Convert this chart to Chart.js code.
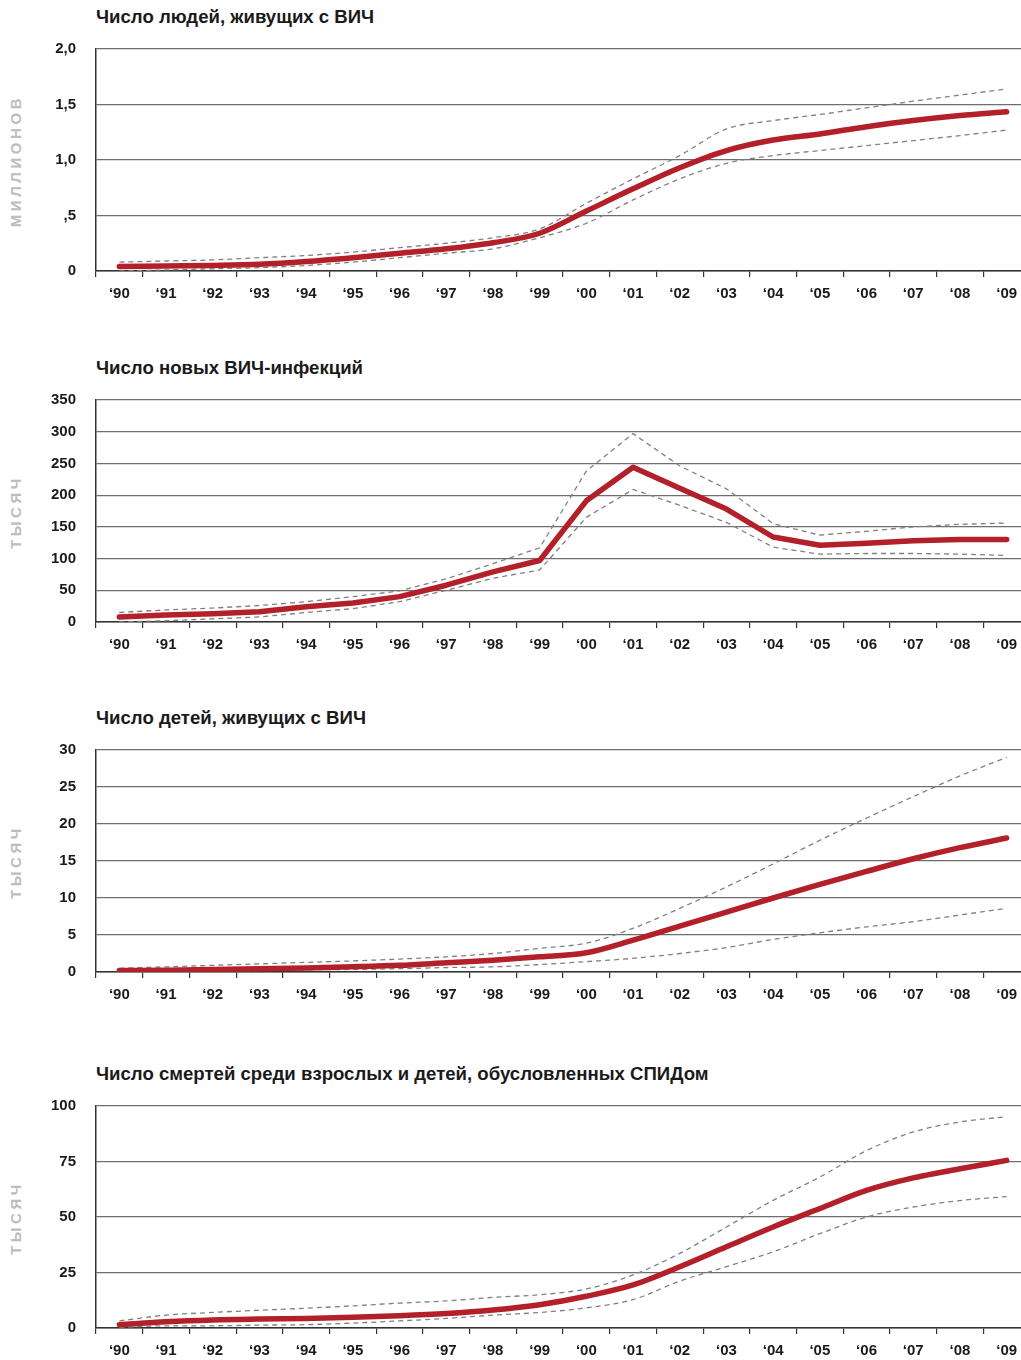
<!DOCTYPE html>
<html>
<head>
<meta charset="utf-8">
<script src="https://cdn.jsdelivr.net/npm/chart.js@4.4.1/dist/chart.umd.min.js"></script>
<style>
  body { margin: 0; width: 1021px; height: 1360px; overflow: hidden; background: #fff;
         position: relative; font-family: "Liberation Sans", Arial, sans-serif; }
  .title { position: absolute; left: 96px; font-weight: bold; font-size: 18.6px; color: #1a1a1a;
           white-space: nowrap; line-height: 20px; }
  .unit  { position: absolute; left: 7px; writing-mode: vertical-rl; font-weight: bold; font-size: 15px;
           letter-spacing: 3.6px; color: #bdbdbd; white-space: nowrap;
           transform: translateY(-50%) rotate(180deg); }
  .box   { position: absolute; left: 0; }
</style>
</head>
<body>

<div class="title" style="top:7px">Число людей, живущих с ВИЧ</div>
<div class="title" style="top:358px">Число новых ВИЧ-инфекций</div>
<div class="title" style="top:708px">Число детей, живущих с ВИЧ</div>
<div class="title" style="top:1064px">Число смертей среди взрослых и детей, обусловленных СПИДом</div>

<div class="unit" style="top:161px">МИЛЛИОНОВ</div>
<div class="unit" style="top:512px">ТЫСЯЧ</div>
<div class="unit" style="top:862px">ТЫСЯЧ</div>
<div class="unit" style="top:1218px">ТЫСЯЧ</div>

<!-- the y axis reserves ~28px above the plot for its top label, so each box starts 28px above its plot -->
<div class="box" style="top:20px"><canvas id="c-plhiv" width="1030" height="291"></canvas></div>
<div class="box" style="top:371px"><canvas id="c-new" width="1030" height="291"></canvas></div>
<div class="box" style="top:721px"><canvas id="c-kids" width="1030" height="291"></canvas></div>
<div class="box" style="top:1077px"><canvas id="c-deaths" width="1030" height="291"></canvas></div>

<script>
// Years on the x axis
const YEARS = ["‘90", "‘91", "‘92", "‘93", "‘94", "‘95", "‘96", "‘97", "‘98", "‘99",
               "‘00", "‘01", "‘02", "‘03", "‘04", "‘05", "‘06", "‘07", "‘08", "‘09"];

// People living with HIV (millions): estimate, upper and lower bound
const PLHIV_MID  = [0.04, 0.045, 0.05, 0.06, 0.085, 0.12, 0.16, 0.20, 0.255, 0.34, 0.54, 0.74, 0.93, 1.085, 1.18, 1.235, 1.30, 1.355, 1.40, 1.435];
const PLHIV_HIGH = [0.08, 0.09, 0.10, 0.12, 0.14, 0.17, 0.21, 0.25, 0.30, 0.38, 0.61, 0.83, 1.04, 1.28, 1.355, 1.41, 1.47, 1.53, 1.585, 1.64];
const PLHIV_LOW  = [0.0, 0.01, 0.02, 0.03, 0.05, 0.08, 0.12, 0.16, 0.20, 0.30, 0.43, 0.64, 0.83, 0.97, 1.04, 1.085, 1.13, 1.175, 1.22, 1.27];
const PLHIV_TICKS = ["0", ",5", "1,0", "1,5", "2,0"];

// New HIV infections (thousands)
const NEW_MID  = [8, 11, 13, 16, 24, 30, 40, 58, 79, 97, 191, 244, 211, 178, 134, 121, 124, 128, 130, 130];
const NEW_HIGH = [15, 19, 22, 26, 32, 40, 49, 68, 92, 117, 238, 297, 246, 210, 155, 137, 143, 150, 154, 156];
const NEW_LOW  = [0, 2, 5, 8, 15, 21, 32, 50, 69, 82, 165, 209, 184, 157, 118, 107, 108, 108, 107, 105];

// Children living with HIV (thousands)
const KIDS_MID  = [0.2, 0.25, 0.35, 0.45, 0.55, 0.7, 0.9, 1.25, 1.6, 2.05, 2.6, 4.3, 6.2, 8.1, 10.0, 11.85, 13.6, 15.3, 16.8, 18.1];
const KIDS_HIGH = [0.5, 0.7, 0.9, 1.1, 1.3, 1.5, 1.75, 2.05, 2.5, 3.2, 3.9, 5.9, 8.6, 11.5, 14.6, 17.8, 20.8, 23.7, 26.5, 29.0];
const KIDS_LOW  = [0.05, 0.1, 0.15, 0.2, 0.3, 0.35, 0.45, 0.6, 0.7, 1.0, 1.4, 1.85, 2.5, 3.3, 4.4, 5.3, 6.1, 6.8, 7.7, 8.6];

// AIDS-related deaths (thousands)
const DEATHS_MID  = [1.5, 2.8, 3.6, 4.0, 4.3, 4.8, 5.5, 6.5, 8.1, 10.5, 14.3, 19.4, 27.6, 36.6, 45.5, 53.8, 62.0, 67.6, 71.7, 75.5];
const DEATHS_HIGH = [3.2, 5.8, 7.0, 8.0, 8.9, 10.0, 11.2, 12.2, 13.8, 15.0, 17.6, 23.9, 33.6, 45.5, 57.5, 68.0, 79.9, 88.3, 92.8, 95.2];
const DEATHS_LOW  = [0.2, 1.0, 1.0, 1.3, 1.5, 2.2, 3.2, 4.3, 5.8, 7.0, 9.1, 12.8, 21.1, 27.6, 34.3, 42.5, 50.0, 54.5, 57.4, 59.2];

const RED = "#b3202a";
const DASH_GREY = "#808080";
const TICK_FONT = { family: "'Liberation Sans', Arial, sans-serif", size: 15, weight: "bold" };

/**
 * Build one panel: thick red estimate line plus two dashed bound lines.
 * smooth=true draws monotone curves, otherwise straight segments.
 */
function makePanel(id, mid, high, low, max, step, smooth, tickLabels) {
  const curve = smooth ? { cubicInterpolationMode: "monotone" } : { tension: 0 };

  const dashed = (data) => Object.assign({
    data: data,
    borderColor: DASH_GREY,
    borderWidth: 1.3,
    borderDash: [5, 4],
    pointRadius: 0,
    fill: false
  }, curve);

  new Chart(document.getElementById(id), {
    type: "line",
    data: {
      labels: YEARS,
      datasets: [
        Object.assign({ data: mid, borderColor: RED, borderWidth: 5.5, borderCapStyle: "round",
          borderJoinStyle: "round", pointRadius: 0, fill: false }, curve),
        dashed(high),
        dashed(low)
      ]
    },
    options: {
      responsive: false,
      animation: false,
      layout: { padding: 0 },
      plugins: { legend: { display: false }, tooltip: { enabled: false } },
      scales: {
        x: {
          offset: true,
          afterFit: (s) => { s.height = 40; },
          // tick marks sit between the years, only below the axis
          grid: { offset: true, drawOnChartArea: false, drawTicks: true, tickLength: 6,
                  color: "#333", lineWidth: 1.2 },
          border: { display: true, color: "#333", width: 1.5 },
          ticks: { font: TICK_FONT, color: "#1a1a1a", padding: 8, autoSkip: false, maxRotation: 0 }
        },
        y: {
          min: 0, max: max,
          afterFit: (s) => { s.width = 96; },
          grid: { drawTicks: false, color: "#6e6e6e", lineWidth: 1.2 },
          border: { display: true, color: "#333", width: 1.5 },
          ticks: {
            stepSize: step, font: TICK_FONT, color: "#1a1a1a", padding: 20,
            callback: (v, i) => tickLabels ? tickLabels[i] : v
          }
        }
      }
    }
  });
}

makePanel("c-plhiv", PLHIV_MID, PLHIV_HIGH, PLHIV_LOW, 2, 0.5, true, PLHIV_TICKS);
makePanel("c-new", NEW_MID, NEW_HIGH, NEW_LOW, 350, 50, false, null);
makePanel("c-kids", KIDS_MID, KIDS_HIGH, KIDS_LOW, 30, 5, true, null);
makePanel("c-deaths", DEATHS_MID, DEATHS_HIGH, DEATHS_LOW, 100, 25, true, null);
</script>
</body>
</html>
